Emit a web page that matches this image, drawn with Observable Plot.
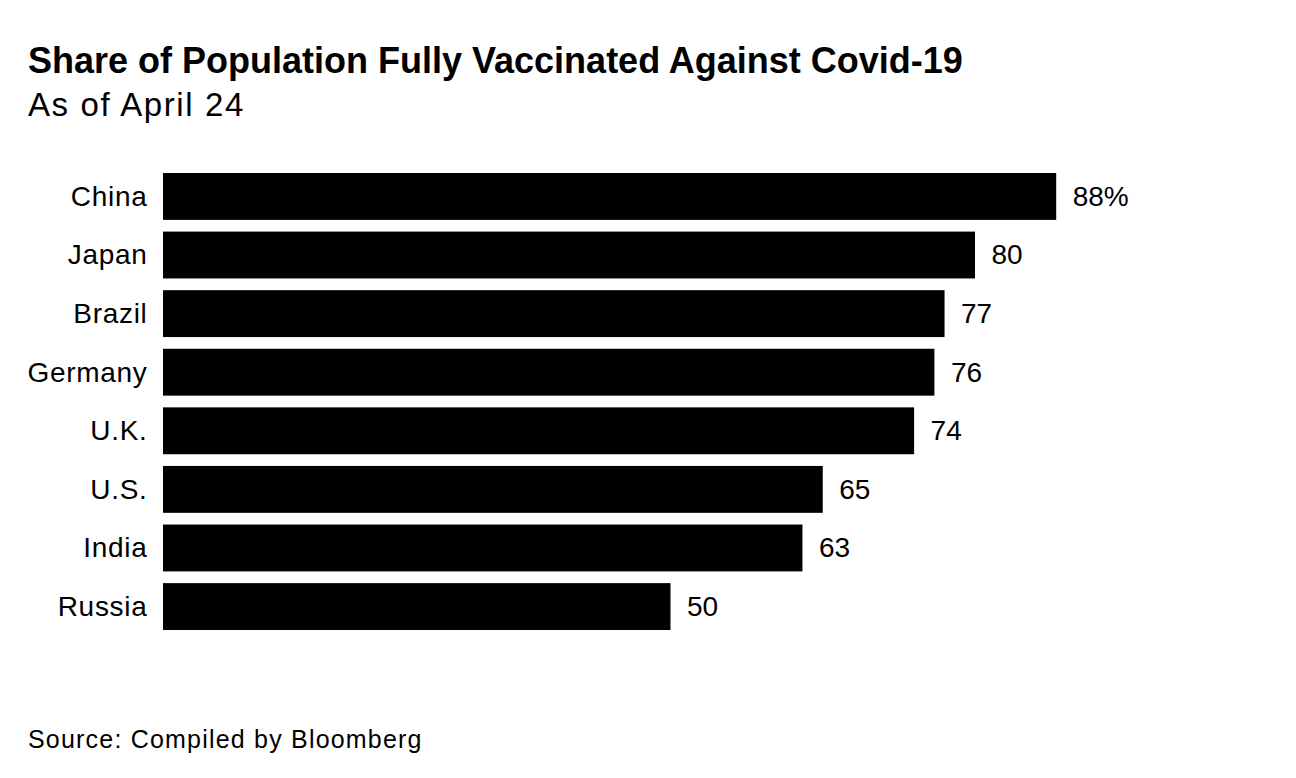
<!DOCTYPE html>
<html>
<head>
<meta charset="utf-8">
<script src="https://cdn.jsdelivr.net/npm/d3@7"></script>
<script src="https://cdn.jsdelivr.net/npm/@observablehq/plot@0.6"></script>
<style>
  html, body { margin: 0; padding: 0; background: #fff; width: 1296px; height: 778px; overflow: hidden; }
  body { position: relative; font-family: "Liberation Sans", Arial, sans-serif; color: #000; }
  #title { position: absolute; left: 28px; top: 43px; font-size: 36px; line-height: 1; font-weight: bold; letter-spacing: 0; white-space: nowrap; }
  #subtitle { position: absolute; left: 28px; top: 88px; font-size: 33px; line-height: 1; letter-spacing: 1.6px; white-space: nowrap; }
  #chart { position: absolute; left: 0; top: 150px; }
  #source { position: absolute; left: 28px; top: 727px; font-size: 25px; line-height: 1; letter-spacing: 1.2px; white-space: nowrap; }
  #chart g[aria-label="y-axis tick label"] { letter-spacing: 0.7px; }
</style>
</head>
<body>
<div id="title">Share of Population Fully Vaccinated Against Covid-19</div>
<div id="subtitle">As of April 24</div>
<div id="chart"></div>
<div id="source">Source: Compiled by Bloomberg</div>
<script>
const countries = ["China", "Japan", "Brazil", "Germany", "U.K.", "U.S.", "India", "Russia"];
const shares = [88, 80, 77, 76, 74, 65, 63, 50];
const valueLabels = ["88%", "80", "77", "76", "74", "65", "63", "50"];

const data = countries.map((c, i) => ({country: c, share: shares[i], label: valueLabels[i]}));

const chart = Plot.plot({
  width: 1296,
  height: 500,
  marginLeft: 163,
  marginRight: 118,
  marginTop: 23,
  marginBottom: 20,
  style: {fontFamily: "'Liberation Sans', Arial, sans-serif", background: "white"},
  x: {domain: [0, 100], axis: null},
  y: {domain: countries, paddingInner: 0.2, paddingOuter: 0, align: 0.5, round: false, label: null},
  marks: [
    Plot.barX(data, {x: "share", y: "country", fill: "black"}),
    Plot.text(data, {x: "share", y: "country", text: "label", textAnchor: "start", dx: 16, fontSize: 28, letterSpacing: 1, fill: "black"}),
    Plot.axisY({tickSize: 0, tickPadding: 16, fontSize: 28, label: null})
  ]
});
document.getElementById("chart").appendChild(chart);
</script>
</body>
</html>
